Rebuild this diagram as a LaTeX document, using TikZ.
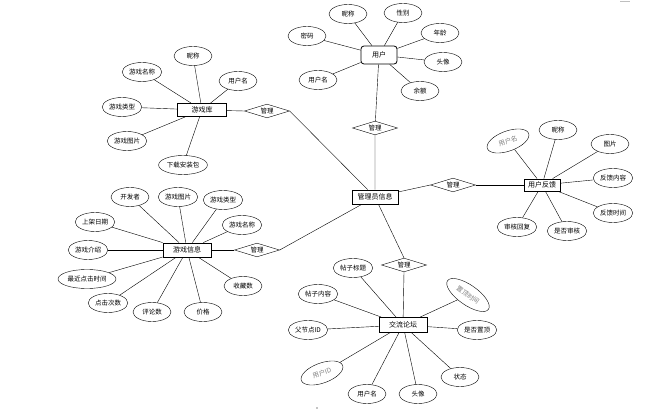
\documentclass[tikz,border=0pt]{standalone}
\usepackage{fontspec}
\newfontfamily\cjk{Noto Sans CJK SC}
\usetikzlibrary{shapes.geometric}

\tikzset{
  attr/.style={ellipse, draw, minimum width=38, minimum height=19, inner sep=1pt, font=\cjk\fontsize{6.5}{7}\selectfont},
  grayattr/.style={attr, text=gray, minimum width=44, minimum height=20},
  ent/.style={rectangle, draw, line width=0.8pt, minimum height=14, inner sep=1pt, font=\cjk\fontsize{7}{8}\selectfont},
  rel/.style={diamond, draw, aspect=1.67, minimum width=45, inner sep=0pt, font=\cjk\fontsize{6.5}{7}\selectfont}
}

\begin{document}
\begin{tikzpicture}[x=1pt, y=-1pt]
\useasboundingbox (0,0) rectangle (672,414);

% Entities
\node[ent, rounded corners=3pt, minimum width=36, minimum height=18] (user) at (379,55) {用户};
\node[ent, minimum width=49, minimum height=13] (lib) at (202,110) {游戏库};
\node[ent, minimum width=48] (info) at (187,250) {游戏信息};
\node[ent, minimum width=46] (admin) at (375,197) {管理员信息};
\node[ent, minimum width=36, minimum height=12] (fb) at (542,185) {用户反馈};
\node[ent, minimum width=48, minimum height=15] (forum) at (403,325) {交流论坛};

% Relations
\node[rel] (rUser) at (375,128) {管理};
\node[rel] (rLib) at (267,111) {管理};
\node[rel] (rInfo) at (257,250) {管理};
\node[rel] (rFb) at (453,185) {管理};
\node[rel] (rForum) at (404,265) {管理};

% Attributes of user
\node[attr] (u1) at (348,14) {昵称};
\node[attr] (u2) at (403,13) {性别};
\node[attr] (u3) at (307,36) {密码};
\node[attr] (u4) at (440,33) {年龄};
\node[attr] (u5) at (443,62) {头像};
\node[attr] (u6) at (318,80) {用户名};
\node[attr] (u7) at (420,91) {余额};

% Attributes of game library
\node[attr] (l1) at (193,56) {昵称};
\node[attr] (l2) at (142,72) {游戏名称};
\node[attr] (l3) at (238,81) {用户名};
\node[attr] (l4) at (122,107) {游戏类型};
\node[attr] (l5) at (127,141) {游戏图片};
\node[attr] (l6) at (183,165) {下载安装包};

% Attributes of game info
\node[attr] (i1) at (130,197) {开发者};
\node[attr] (i2) at (178,197) {游戏图片};
\node[attr] (i3) at (223,200) {游戏类型};
\node[attr] (i4) at (95,222) {上架日期};
\node[attr] (i5) at (242,225) {游戏名称};
\node[attr] (i6) at (88,250) {游戏介绍};
\node[attr] (i7) at (87,279) {最近点击时间};
\node[attr] (i8) at (243,286) {收藏数};
\node[attr] (i9) at (108,303) {点击次数};
\node[attr] (i10) at (152,312) {评论数};
\node[attr] (i11) at (203,312) {价格};

% Attributes of feedback
\node[grayattr, rotate=20] (f1) at (508,141) {用户名};
\node[attr] (f2) at (558,130) {昵称};
\node[attr] (f3) at (610,144) {图片};
\node[attr] (f4) at (613,178) {反馈内容};
\node[attr] (f5) at (613,213) {反馈时间};
\node[attr] (f6) at (517,227) {审核回复};
\node[attr] (f7) at (567,231) {是否审核};

% Attributes of forum
\node[attr] (p1) at (353,268) {帖子标题};
\node[attr] (p2) at (318,294) {帖子内容};
\node[grayattr, rotate=-35, minimum width=50] (p3) at (468,295) {置顶时间};
\node[attr] (p4) at (308,330) {父节点ID};
\node[attr] (p5) at (477,330) {是否置顶};
\node[grayattr, rotate=20] (p6) at (322,373) {用户ID};
\node[attr] (p7) at (367,394) {用户名};
\node[attr] (p8) at (418,394) {头像};
\node[attr] (p9) at (460,377) {状态};

% Attribute lines
\foreach \a in {u1,u2,u3,u4,u5,u6,u7} \draw (user) -- (\a);
\foreach \a in {l1,l2,l3,l4,l5,l6} \draw (lib) -- (\a);
\foreach \a in {i1,i2,i3,i4,i5,i6,i7,i8,i9,i10,i11} \draw (info) -- (\a);
\foreach \a in {f1,f2,f3,f4,f5,f6,f7} \draw (fb) -- (\a);
\foreach \a in {p1,p2,p3,p4,p5,p6,p7,p8,p9} \draw (forum) -- (\a);

% Relation lines
\draw (user) -- (rUser) -- (admin);
\draw (lib) -- (rLib.west);
\draw (rLib.east) -- (admin);
\draw (info) -- (rInfo.west);
\draw (rInfo.east) -- (admin);
\draw (admin) -- (rFb.west);
\draw (rFb.east) -- (fb);
\draw (admin) -- (rForum.north);
\draw (rForum.south) -- (forum);

% Page marks
\draw[gray!50] (620,1) -- (630,1);
\fill (317,408) circle (0.6);

\end{tikzpicture}
\end{document}
